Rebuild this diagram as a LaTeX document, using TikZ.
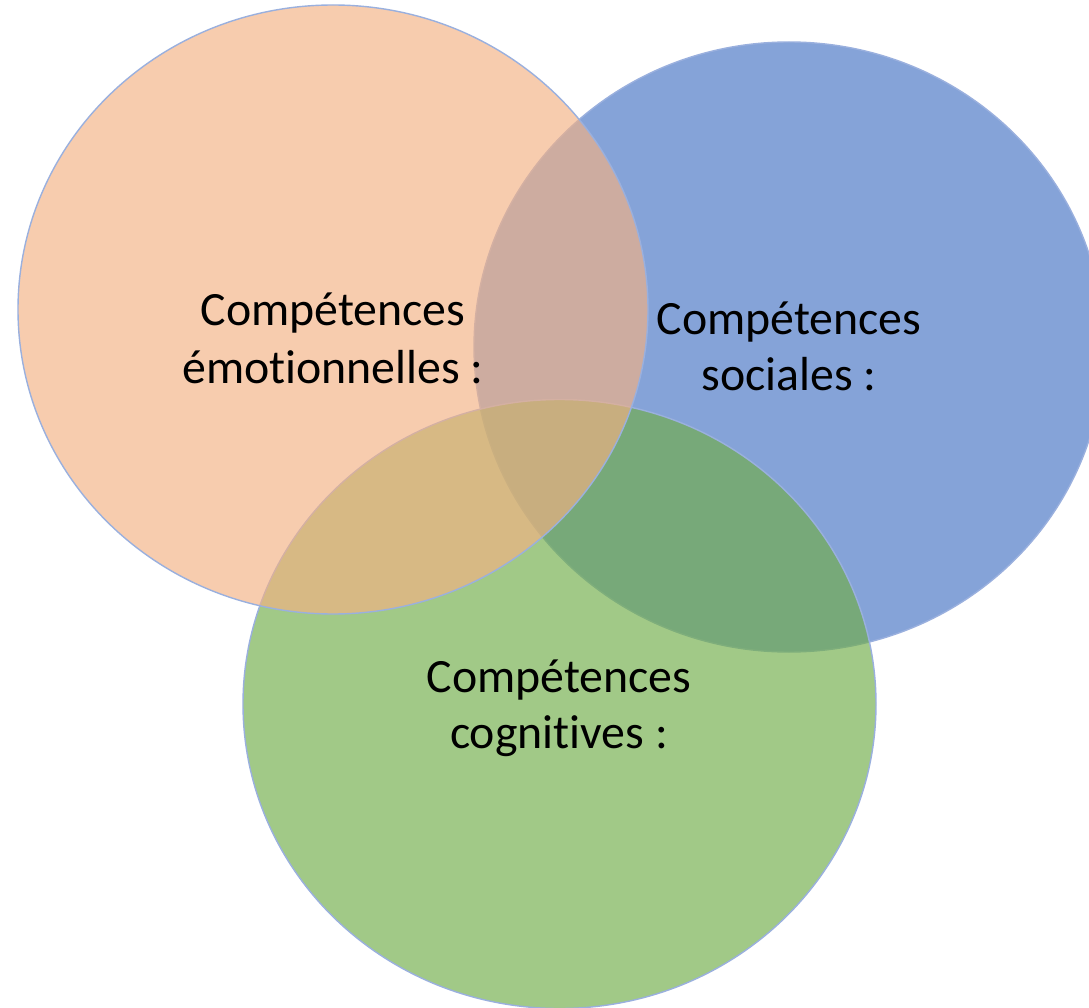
\documentclass[tikz,border=0pt]{standalone}
\usepackage{fontspec}
\setmainfont{Carlito}[Ligatures=NoCommon]
\definecolor{cOrange}{HTML}{F4B183}
\definecolor{cBlue}{HTML}{4472C4}
\definecolor{cGreen}{HTML}{70AD47}
\definecolor{cEdge}{HTML}{9AB0DE}
\begin{document}
\begin{tikzpicture}[x=1pt,y=-1pt,
  setdisk/.style={draw=cEdge, line width=1.4pt, fill opacity=0.65},
  lbl/.style={anchor=base, inner sep=0pt, font=\fontsize{47.8}{57}\selectfont, text=black}]
\useasboundingbox (0,0) rectangle (1089,1008);
\begin{scope}
\clip (0,0) rectangle (1089,1008);
\fill[white] (0,0) rectangle (1089,1008);
% blue (social)
\draw[setdisk, fill=cBlue] (789,347) ellipse [x radius=315, y radius=305];
% green (cognitive)
\draw[setdisk, fill=cGreen] (559.5,704) ellipse [x radius=316.5, y radius=304.5];
% orange (emotional)
\draw[setdisk, fill=cOrange] (333,309.5) ellipse [x radius=315, y radius=304.5];
\end{scope}
\node[lbl] (emo1) at (333,325) {Compétences};
\node[lbl] (emo2) at (333,383) {émotionnelles\ :};
\node[lbl] (soc1) at (789,334) {Compétences};
\node[lbl] (soc2) at (789,390) {sociales :};
\node[lbl] (cog1) at (559,692) {Compétences};
\node[lbl] (cog2) at (559,748) {cognitives :};
\end{tikzpicture}
\end{document}
